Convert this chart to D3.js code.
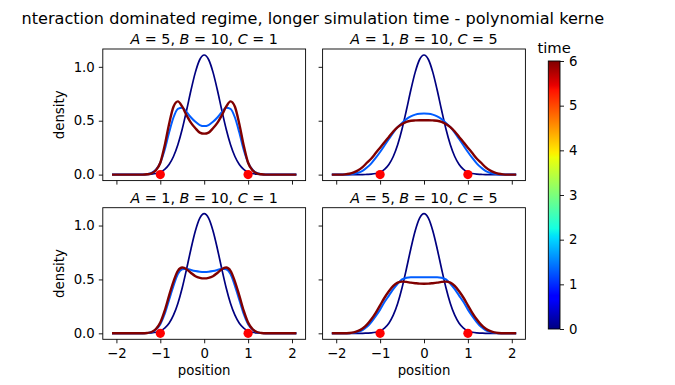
<!DOCTYPE html>
<html lang="en">
<head>
<meta charset="utf-8">
<script src="https://d3js.org/d3.v7.min.js"></script>
<style>
  body { margin: 0; background: #fff; }
  svg, svg text { font-family: "DejaVu Sans", sans-serif; }
  .tick line { stroke: #000; stroke-width: 0.9; }
  .tick text { fill: #000; }
</style>
</head>
<body>
<script>
// ---- data ----
var positions = [-2.1,-2.0,-1.9,-1.8,-1.7,-1.6,-1.5,-1.4,-1.3,-1.2,-1.1,-1.0,-0.9,-0.8,-0.7,-0.6,-0.5,-0.4,-0.3,-0.2,-0.1,
                 0,0.1,0.2,0.3,0.4,0.5,0.6,0.7,0.8,0.9,1.0,1.1,1.2,1.3,1.4,1.5,1.6,1.7,1.8,1.9,2.0,2.1];

// initial density (t = 0), same in every panel
var density_t0 = [0,0,0,0,0,0,0,0,0.002,0.004,0.01,0.023,0.049,0.094,0.168,0.277,0.423,0.599,0.785,0.951,1.068,
                  1.11,1.068,0.951,0.785,0.599,0.423,0.277,0.168,0.094,0.049,0.023,0.01,0.004,0.002,0,0,0,0,0,0,0,0];

// A=5, B=10, C=1
var a5c1_mid = [0,0,0,0,0,0,0,0,0.004,0.015,0.045,0.11,0.23,0.39,0.53,0.61,0.62,0.58,0.53,0.49,0.46,
                0.45,0.46,0.49,0.53,0.58,0.62,0.61,0.53,0.39,0.23,0.11,0.045,0.015,0.004,0,0,0,0,0,0,0,0];
var a5c1_end = [0,0,0,0,0,0,0,0,0.003,0.012,0.04,0.11,0.27,0.47,0.63,0.68,0.63,0.55,0.48,0.43,0.39,
                0.38,0.39,0.43,0.48,0.55,0.63,0.68,0.63,0.47,0.27,0.11,0.04,0.012,0.003,0,0,0,0,0,0,0,0];
// A=1, B=10, C=5
var a1c5_mid = [0,0,0,0,0.002,0.007,0.017,0.035,0.065,0.105,0.155,0.21,0.27,0.33,0.39,0.44,0.48,0.515,0.54,0.557,0.565,
                0.567,0.565,0.557,0.54,0.515,0.48,0.44,0.39,0.33,0.27,0.21,0.155,0.105,0.065,0.035,0.017,0.007,0.002,0,0,0,0];
var a1c5_end = [0,0,0,0.002,0.008,0.02,0.04,0.07,0.11,0.15,0.2,0.25,0.3,0.35,0.4,0.44,0.47,0.49,0.5,0.503,0.505,
                0.505,0.505,0.503,0.5,0.49,0.47,0.44,0.4,0.35,0.3,0.25,0.2,0.15,0.11,0.07,0.04,0.02,0.008,0.002,0,0,0];
// A=1, B=10, C=1
var a1c1_mid = [0,0,0,0,0,0,0,0,0.003,0.01,0.035,0.085,0.18,0.31,0.44,0.55,0.595,0.6,0.588,0.578,0.572,
                0.57,0.572,0.578,0.588,0.6,0.595,0.55,0.44,0.31,0.18,0.085,0.035,0.01,0.003,0,0,0,0,0,0,0,0];
var a1c1_end = [0,0,0,0,0,0,0,0,0.003,0.012,0.04,0.1,0.21,0.35,0.48,0.58,0.61,0.595,0.56,0.53,0.515,
                0.51,0.515,0.53,0.56,0.595,0.61,0.58,0.48,0.35,0.21,0.1,0.04,0.012,0.003,0,0,0,0,0,0,0,0];
// A=5, B=10, C=5
var a5c5_mid = [0,0,0,0,0.001,0.005,0.013,0.03,0.06,0.105,0.16,0.22,0.29,0.35,0.41,0.46,0.5,0.515,0.52,0.52,0.52,
                0.52,0.52,0.52,0.52,0.515,0.5,0.46,0.41,0.35,0.29,0.22,0.16,0.105,0.06,0.03,0.013,0.005,0.001,0,0,0,0];
var a5c5_end = [0,0,0,0,0.003,0.009,0.022,0.045,0.08,0.13,0.19,0.26,0.33,0.39,0.44,0.47,0.48,0.477,0.47,0.465,0.461,
                0.46,0.461,0.465,0.47,0.477,0.48,0.47,0.44,0.39,0.33,0.26,0.19,0.13,0.08,0.045,0.022,0.009,0.003,0,0,0,0];

var snapshotTimes = [0, 1.3, 6];
var markerX = [-1, 1];
var markerY = [0, 0];
var xTicks = [-2, -1, 0, 1, 2];
var yTicks = [0, 0.5, 1.0];
var timeTicks = [0, 1, 2, 3, 4, 5, 6];
var suptitle = "nteraction dominated regime, longer simulation time - polynomial kerne";

// jet colormap breakpoints
var jetStops  = [0, 0.11, 0.125, 0.34, 0.35, 0.375, 0.64, 0.65, 0.66, 0.89, 0.91, 1];
var jetColors = ["rgb(0,0,128)","rgb(0,0,255)","rgb(0,0,255)","rgb(0,219,255)","rgb(0,230,247)","rgb(21,255,226)",
                 "rgb(238,255,8)","rgb(247,246,0)","rgb(255,236,0)","rgb(255,19,0)","rgb(232,0,0)","rgb(128,0,0)"];

var panels = [
  {A: "5", B: "10", C: "1", curves: [density_t0, a5c1_mid, a5c1_end], col: 0, row: 0},
  {A: "1", B: "10", C: "5", curves: [density_t0, a1c5_mid, a1c5_end], col: 1, row: 0},
  {A: "1", B: "10", C: "1", curves: [density_t0, a1c1_mid, a1c1_end], col: 0, row: 1},
  {A: "5", B: "10", C: "5", curves: [density_t0, a5c5_mid, a5c5_end], col: 1, row: 1}
];

// ---- layout ----
var width = 675, height = 385;
var colX = [102.8, 322.6], rowY = [49, 207.7];
var pw = 202.8, ph = 131.6;
var labelSize = "13.3px";

var svg = d3.select("body").append("svg")
    .attr("width", width).attr("height", height);

var jet = d3.scaleLinear().domain(jetStops).range(jetColors).interpolate(d3.interpolateRgb);
var timeScale = d3.scaleLinear().domain([0, 6]).range([0, 1]);

var x = d3.scaleLinear().domain([-2.31, 2.31]).range([0, pw]);
var y = d3.scaleLinear().domain([-0.0555, 1.1655]).range([ph, 0]);

var line = d3.line()
    .x(function(d, i) { return x(positions[i]); })
    .y(function(d) { return y(d); })
    .curve(d3.curveMonotoneX);

var widths = [1.7, 2.0, 2.4];

function styleAxis(s) {
  s.select(".domain").remove();
  s.attr("font-family", null).attr("font-size", null);
  s.selectAll(".tick text").style("font-size", labelSize).style("font-family", "DejaVu Sans");
}

panels.forEach(function(p) {
  var g = svg.append("g").attr("transform", "translate(" + colX[p.col] + "," + rowY[p.row] + ")");

  p.curves.forEach(function(c, k) {
    g.append("path")
      .attr("d", line(c))
      .attr("fill", "none")
      .attr("stroke", jet(timeScale(snapshotTimes[k])))
      .attr("stroke-width", widths[k]);
  });

  g.selectAll("circle").data(markerX).enter().append("circle")
    .attr("cx", function(d) { return x(d); })
    .attr("cy", function(d, i) { return y(markerY[i]); })
    .attr("r", 4.6)
    .attr("fill", "#ff0000");

  var xa = d3.axisBottom(x).tickValues(xTicks).tickSize(4).tickSizeOuter(0).tickPadding(5.4)
      .tickFormat(p.row === 1 ? d3.format("d") : "");
  g.append("g").attr("transform", "translate(0," + ph + ")").call(xa).call(styleAxis);

  var ya = d3.axisLeft(y).tickValues(yTicks).tickSize(4).tickSizeOuter(0).tickPadding(4)
      .tickFormat(p.col === 0 ? d3.format(".1f") : "");
  g.append("g").call(ya).call(styleAxis);

  g.append("rect").attr("width", pw).attr("height", ph)
    .attr("fill", "none").attr("stroke", "#000").attr("stroke-width", 0.9);

  var t = g.append("text").attr("x", pw / 2).attr("y", -5.2)
    .attr("text-anchor", "middle").style("font-size", "14.3px");
  t.append("tspan").style("font-style", "italic").text("A");
  t.append("tspan").text(" = " + p.A + ", ");
  t.append("tspan").style("font-style", "italic").text("B");
  t.append("tspan").text(" = " + p.B + ", ");
  t.append("tspan").style("font-style", "italic").text("C");
  t.append("tspan").text(" = " + p.C);

  if (p.col === 0) {
    g.append("text").attr("transform", "translate(-38.5," + ph / 2 + ") rotate(-90)")
      .attr("text-anchor", "middle").style("font-size", labelSize).text("density");
  }
  if (p.row === 1) {
    g.append("text").attr("x", pw / 2).attr("y", ph + 35.5)
      .attr("text-anchor", "middle").style("font-size", labelSize).text("position");
  }
});

// suptitle
svg.append("text").attr("x", 21.5).attr("y", 23.5)
  .style("font-size", "16.1px").text(suptitle);

// ---- colorbar ----
var cbX = 548.3, cbY = 61, cbW = 11.7, cbH = 268;
var defs = svg.append("defs");
var grad = defs.append("linearGradient").attr("id", "jetgrad")
  .attr("x1", 0).attr("y1", 1).attr("x2", 0).attr("y2", 0);
grad.selectAll("stop").data(jetStops).enter().append("stop")
  .attr("offset", function(d) { return d; })
  .attr("stop-color", function(d, i) { return jetColors[i]; });

svg.append("rect").attr("x", cbX).attr("y", cbY).attr("width", cbW).attr("height", cbH)
  .attr("fill", "url(#jetgrad)").attr("stroke", "#000").attr("stroke-width", 0.9);

var cy = d3.scaleLinear().domain([0, 6]).range([cbY + cbH, cbY]);
svg.append("g").attr("transform", "translate(" + (cbX + cbW) + ",0)")
  .call(d3.axisRight(cy).tickValues(timeTicks).tickSize(4).tickSizeOuter(0).tickPadding(5).tickFormat(d3.format("d")))
  .call(styleAxis);

svg.append("text").attr("x", cbX + cbW / 2).attr("y", 52.5)
  .attr("text-anchor", "middle").style("font-size", "14.8px").text("time");
</script>
</body>
</html>
